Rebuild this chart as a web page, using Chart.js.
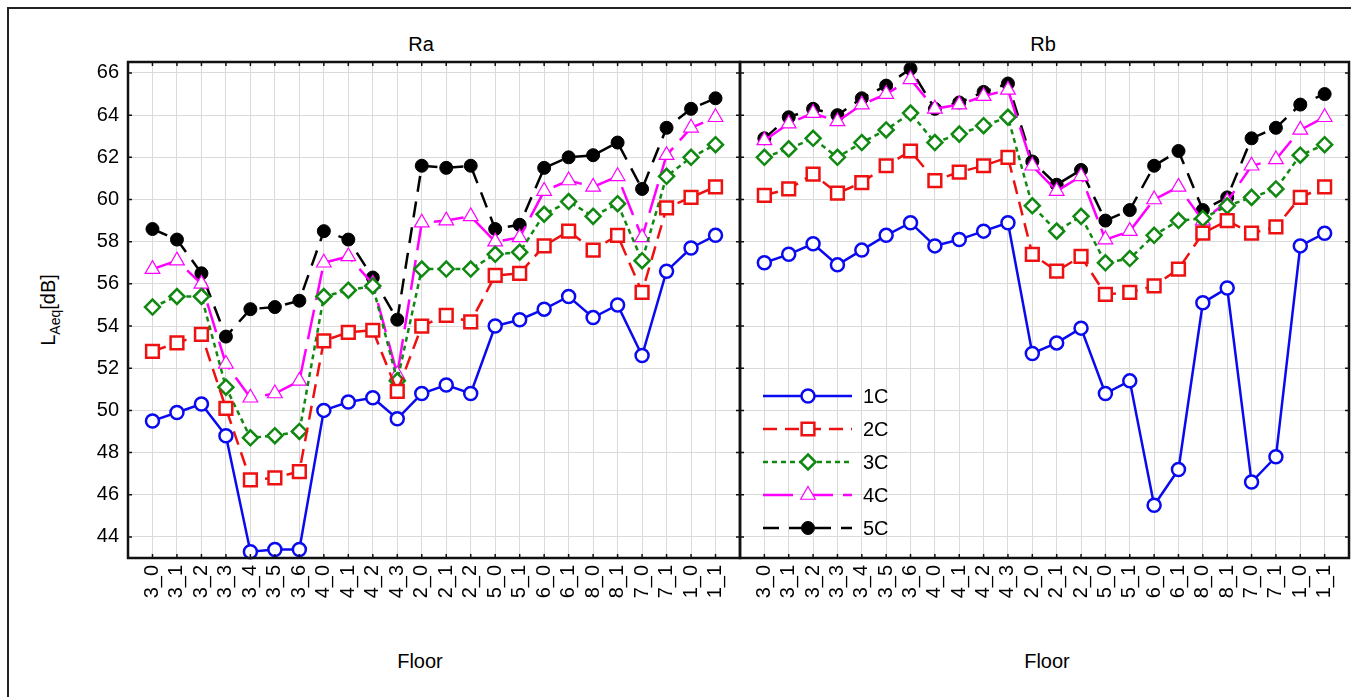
<!DOCTYPE html>
<html>
<head>
<meta charset="utf-8">
<script src="https://cdn.jsdelivr.net/npm/chart.js@4.4.0/dist/chart.umd.min.js"></script>
<style>
  body { margin: 0; background: #fff; width: 1351px; height: 697px; overflow: hidden; position: relative;
         font-family: "Liberation Sans", Arial, sans-serif; color: #000; }
  #frame { position: absolute; left: 7px; top: 7px; width: 1400px; height: 800px; border: 2px solid #222; }
  .txt { position: absolute; font-size: 20px; white-space: nowrap; transform: translate(-50%, -50%); }
  #ytitle { position: absolute; left: 50px; top: 310px; font-size: 20px; white-space: nowrap;
            transform: translate(-50%, -50%) rotate(-90deg); }
  #ytitle sub { font-size: 14px; }
  canvas { position: absolute; }
</style>
</head>
<body>
<div id="frame"></div>
<div class="txt" style="left:421px; top:44px;">Ra</div>
<div class="txt" style="left:1043px; top:44px;">Rb</div>
<div class="txt" style="left:420px; top:661px;">Floor</div>
<div class="txt" style="left:1047px; top:661px;">Floor</div>
<div id="ytitle">L<sub>Aeq</sub>[dB]</div>
<canvas id="chartA" width="745" height="610" style="left:0px; top:20px;"></canvas>
<canvas id="chartB" width="616" height="610" style="left:735px; top:20px;"></canvas>
<script>
const categories = ['3_0','3_1','3_2','3_3','3_4','3_5','3_6','4_0','4_1','4_2','4_3','2_0',
                    '2_1','2_2','5_0','5_1','6_0','6_1','8_0','8_1','7_0','7_1','1_0','1_1'];
const yTicks = [44, 46, 48, 50, 52, 54, 56, 58, 60, 62, 64, 66];
const seriesNames = ['1C', '2C', '3C', '4C', '5C'];

// Ra panel
const ra1C = [49.5, 49.9, 50.3, 48.8, 43.3, 43.4, 43.4, 50.0, 50.4, 50.6, 49.6, 50.8,
              51.2, 50.8, 54.0, 54.3, 54.8, 55.4, 54.4, 55.0, 52.6, 56.6, 57.7, 58.3];
const ra2C = [52.8, 53.2, 53.6, 50.1, 46.7, 46.8, 47.1, 53.3, 53.7, 53.8, 50.9, 54.0,
              54.5, 54.2, 56.4, 56.5, 57.8, 58.5, 57.6, 58.3, 55.6, 59.6, 60.1, 60.6];
const ra3C = [54.9, 55.4, 55.4, 51.1, 48.7, 48.8, 49.0, 55.4, 55.7, 55.9, 51.4, 56.7,
              56.7, 56.7, 57.4, 57.5, 59.3, 59.9, 59.2, 59.8, 57.1, 61.1, 62.0, 62.6];
const ra4C = [56.7, 57.1, 56.0, 52.2, 50.6, 50.8, 51.4, 57.0, 57.3, 56.0, 51.7, 58.9,
              59.0, 59.2, 58.0, 58.2, 60.4, 60.9, 60.6, 61.1, 58.2, 62.1, 63.4, 63.9];
const ra5C = [58.6, 58.1, 56.5, 53.5, 54.8, 54.9, 55.2, 58.5, 58.1, 56.3, 54.3, 61.6,
              61.5, 61.6, 58.6, 58.8, 61.5, 62.0, 62.1, 62.7, 60.5, 63.4, 64.3, 64.8];

// Rb panel
const rb1C = [57.0, 57.4, 57.9, 56.9, 57.6, 58.3, 58.9, 57.8, 58.1, 58.5, 58.9, 52.7,
              53.2, 53.9, 50.8, 51.4, 45.5, 47.2, 55.1, 55.8, 46.6, 47.8, 57.8, 58.4];
const rb2C = [60.2, 60.5, 61.2, 60.3, 60.8, 61.6, 62.3, 60.9, 61.3, 61.6, 62.0, 57.4,
              56.6, 57.3, 55.5, 55.6, 55.9, 56.7, 58.4, 59.0, 58.4, 58.7, 60.1, 60.6];
const rb3C = [62.0, 62.4, 62.9, 62.0, 62.7, 63.3, 64.1, 62.7, 63.1, 63.5, 63.9, 59.7,
              58.5, 59.2, 57.0, 57.2, 58.3, 59.0, 59.1, 59.7, 60.1, 60.5, 62.1, 62.6];
const rb4C = [62.8, 63.6, 64.1, 63.7, 64.5, 65.0, 65.7, 64.3, 64.5, 64.9, 65.2, 61.6,
              60.4, 61.1, 58.1, 58.5, 60.0, 60.6, 59.0, 59.9, 61.6, 61.9, 63.3, 63.9];
const rb5C = [62.9, 63.9, 64.3, 64.0, 64.8, 65.4, 66.2, 64.3, 64.6, 65.1, 65.5, 61.8,
              60.7, 61.4, 59.0, 59.5, 61.6, 62.3, 59.5, 60.1, 62.9, 63.4, 64.5, 65.0];

const styles = [
  { color: '#0a0af0', dash: [], pointStyle: 'circle', radius: 6.5, pbw: 2.5, fill: '#ffffff' },
  { color: '#ee1111', dash: [14, 8], pointStyle: 'rect', radius: 9, pbw: 2.5, fill: '#ffffff' },
  { color: '#118811', dash: [5, 4], pointStyle: 'rectRot', radius: 7.5, pbw: 2.5, fill: '#ffffff' },
  { color: '#ff00ff', dash: [30, 10], pointStyle: 'triangle', radius: 8.5, pbw: 1.2, fill: '#ffffff' },
  { color: '#000000', dash: [16, 10], pointStyle: 'circle', radius: 6.5, pbw: 1, fill: '#000000' }
];

function makeDatasets(arrs) {
  return arrs.map((arr, i) => {
    const s = styles[i];
    return {
      label: seriesNames[i],
      data: arr.map((v, k) => ({ x: k, y: v })),
      borderColor: s.color,
      borderWidth: 2.5,
      borderDash: s.dash,
      pointStyle: s.pointStyle,
      pointRadius: s.radius,
      pointBorderWidth: s.pbw,
      pointBorderColor: s.color,
      pointBackgroundColor: s.fill,
      tension: 0,
      clip: 10
    };
  });
}

const fontSpec = { family: '"Liberation Sans", Arial, sans-serif', size: 20 };

// frame around the plot area with small inner tick stubs
const framePlugin = {
  id: 'frame',
  afterDraw(chart) {
    const { ctx, chartArea: a, scales } = chart;
    ctx.save();
    ctx.strokeStyle = '#111';
    ctx.lineWidth = 1.5;
    ctx.beginPath();
    scales.x.ticks.forEach(t => {
      const px = scales.x.getPixelForValue(t.value);
      ctx.moveTo(px, a.top); ctx.lineTo(px, a.top + 4);
      ctx.moveTo(px, a.bottom); ctx.lineTo(px, a.bottom - 4);
    });
    scales.y.ticks.forEach(t => {
      const py = scales.y.getPixelForValue(t.value);
      ctx.moveTo(a.left, py); ctx.lineTo(a.left + 4, py);
      ctx.moveTo(a.right, py); ctx.lineTo(a.right - 4, py);
    });
    ctx.stroke();
    ctx.lineWidth = 2.5;
    ctx.strokeRect(a.left, a.top, a.right - a.left, a.bottom - a.top);
    ctx.restore();
  }
};

function drawMarker(ctx, ds, x, y) {
  const r = ds.pointRadius;
  ctx.save();
  ctx.setLineDash([]);
  ctx.lineWidth = ds.pointBorderWidth;
  ctx.strokeStyle = ds.pointBorderColor;
  ctx.fillStyle = ds.pointBackgroundColor;
  ctx.beginPath();
  if (ds.pointStyle === 'circle') {
    ctx.arc(x, y, r, 0, Math.PI * 2);
  } else if (ds.pointStyle === 'rect') {
    const s = r * Math.SQRT1_2;
    ctx.rect(x - s, y - s, 2 * s, 2 * s);
  } else if (ds.pointStyle === 'rectRot') {
    ctx.moveTo(x, y - r); ctx.lineTo(x + r, y); ctx.lineTo(x, y + r); ctx.lineTo(x - r, y); ctx.closePath();
  } else if (ds.pointStyle === 'triangle') {
    const w = r * Math.sqrt(3) / 2;
    ctx.moveTo(x, y - r); ctx.lineTo(x + w, y + r / 2); ctx.lineTo(x - w, y + r / 2); ctx.closePath();
  }
  ctx.fill();
  ctx.stroke();
  ctx.restore();
}

// legend inside the Rb panel
const legendPlugin = {
  id: 'innerLegend',
  afterDraw(chart) {
    const { ctx } = chart;
    chart.data.datasets.forEach((ds, i) => {
      const y = 376 + i * 33;
      ctx.save();
      ctx.strokeStyle = ds.borderColor;
      ctx.lineWidth = 2.5;
      ctx.setLineDash(ds.borderDash);
      ctx.beginPath();
      ctx.moveTo(28, y); ctx.lineTo(117, y);
      ctx.stroke();
      ctx.restore();
      drawMarker(ctx, ds, 73, y);
      ctx.save();
      ctx.fillStyle = '#000';
      ctx.font = '20px "Liberation Sans", Arial, sans-serif';
      ctx.textBaseline = 'middle';
      ctx.textAlign = 'left';
      ctx.fillText(ds.label, 128, y + 1);
      ctx.restore();
    });
  }
};

function makeOptions(showY, rightPad) {
  return {
    responsive: false,
    animation: false,
    layout: { autoPadding: false, padding: { top: 42, right: rightPad, left: 0, bottom: 0 } },
    plugins: { legend: { display: false }, tooltip: { enabled: false } },
    scales: {
      x: {
        type: 'linear',
        min: -1,
        max: 24,
        afterBuildTicks(scale) {
          const t = [];
          for (let i = -1; i <= 24; i++) t.push({ value: i });
          scale.ticks = t;
        },
        afterFit(scale) {
          scale.height = 72;
          scale.paddingLeft = 0;
          scale.paddingRight = 0;
        },
        grid: { color: '#dadada', lineWidth: 1, tickLength: 0 },
        border: { display: false },
        ticks: {
          autoSkip: false,
          minRotation: 90,
          maxRotation: 90,
          padding: 7,
          color: '#000',
          font: fontSpec,
          callback: v => (Number.isInteger(v) && v >= 0 && v < categories.length) ? categories[v] : ''
        }
      },
      y: {
        min: 43,
        max: 66.52,
        afterBuildTicks(scale) { scale.ticks = yTicks.map(v => ({ value: v })); },
        afterFit(scale) {
          scale.width = showY ? 128 : 5;
          scale.paddingTop = 0;
          scale.paddingBottom = 0;
        },
        grid: { color: '#dadada', lineWidth: 1, tickLength: 0 },
        border: { display: false },
        ticks: { display: showY, padding: 9, color: '#000', font: fontSpec }
      }
    }
  };
}

new Chart(document.getElementById('chartA').getContext('2d'), {
  type: 'line',
  data: { datasets: makeDatasets([ra1C, ra2C, ra3C, ra4C, ra5C]) },
  options: makeOptions(true, 5),
  plugins: [framePlugin]
});

new Chart(document.getElementById('chartB').getContext('2d'), {
  type: 'line',
  data: { datasets: makeDatasets([rb1C, rb2C, rb3C, rb4C, rb5C]) },
  options: makeOptions(false, 2),
  plugins: [framePlugin, legendPlugin]
});
</script>
</body>
</html>
